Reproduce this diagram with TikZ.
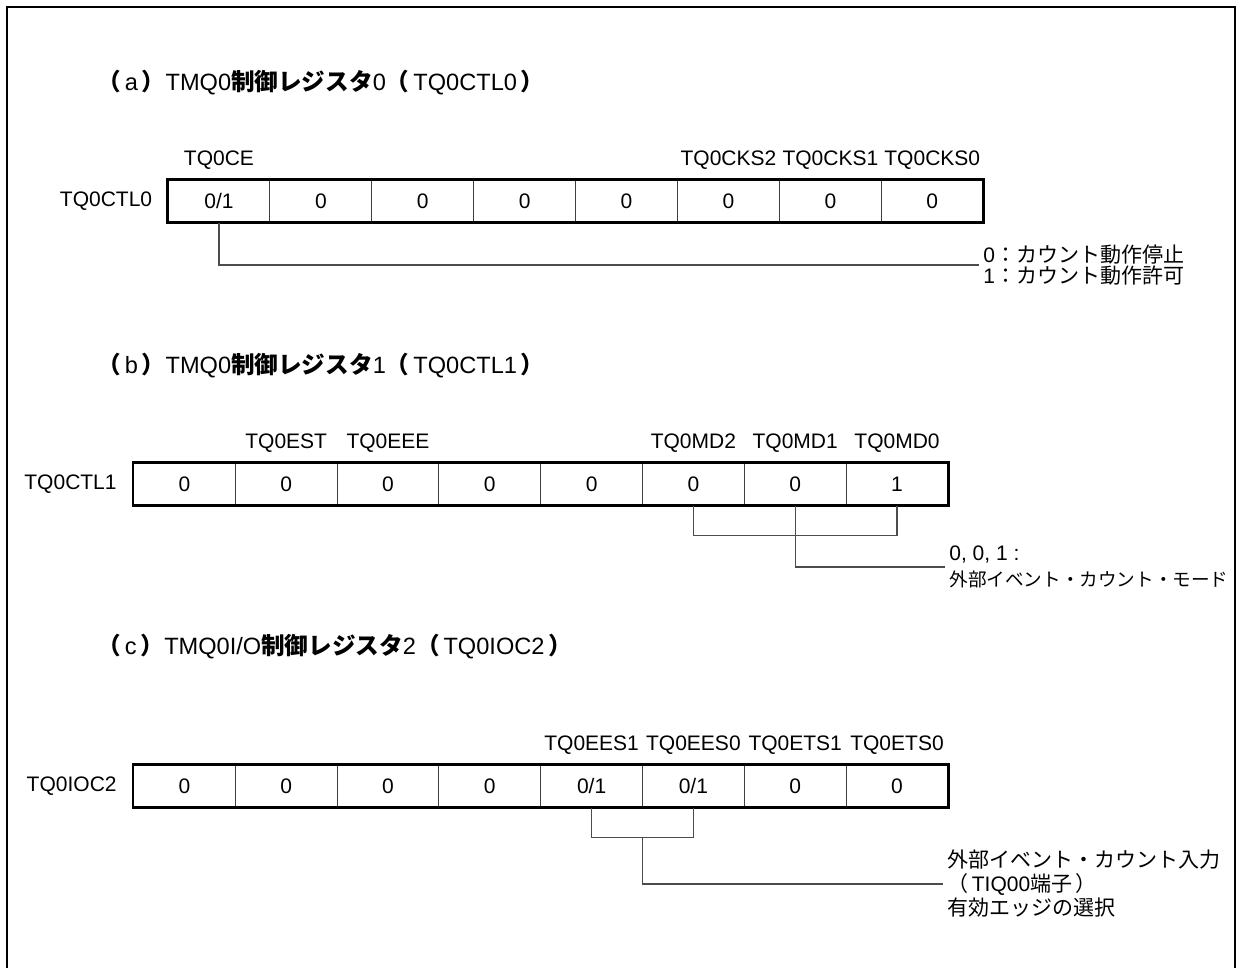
\documentclass[tikz,border=0pt]{standalone}
\usepackage{fontspec}
\setmainfont{Liberation Sans}
\newfontfamily\jp{Noto Sans CJK JP}
\usetikzlibrary{calc,positioning}
\newcommand{\jb}[1]{{\jp\bfseries #1}}

\begin{document}
\begin{tikzpicture}[x=0.5pt,y=-0.5pt,
    cell/.style={draw=black!75, line width=0.5pt, minimum width=50.9pt, minimum height=21.3pt, inner sep=0pt, font=\fontsize{10.5}{12}\selectfont},
    bitname/.style={inner sep=0pt, font=\fontsize{10.5}{12}\selectfont},
    regname/.style={inner sep=0pt, font=\fontsize{10.5}{12}\selectfont},
    title/.style={anchor=west, inner sep=0pt, font=\fontsize{11.8}{14}\selectfont},
    desc/.style={anchor=west, align=left, inner sep=2pt, font=\fontsize{10.5}{10.5}\selectfont},
    link/.style={draw=black!70, line width=0.6pt},
    outline/.style={line width=1.4pt},
    frame/.style={line width=1pt}]
        \useasboundingbox (0,0) rectangle (1242,968);
        % Outer frame
        \draw[frame] (7,990) -- (7,7) -- (1235,7) -- (1235,990);
        % (a) TQ0CTL0
        \node[title] (ttlA) at (97,83) {\jb{（}\,a\,\jb{）}TMQ0\jb{制御レジスタ}0\jb{（}\,TQ0CTL0\,\jb{）}};
        \foreach \v [count=\i] in {{0/1},0,0,0,0,0,0,0}
          \node[cell] (a\i) at ({168+101.9*(\i-0.5)},201) {\v};
        \draw[outline] (a1.north west) rectangle (a8.south east);
        \node[regname, left=7.5pt of a1] (regA) {TQ0CTL0};
        \node[bitname, above=4.5pt of a1] (ce) {TQ0CE};
        \node[bitname, above=4.5pt of a6] (cks2) {TQ0CKS2};
        \node[bitname, above=4.5pt of a7] (cks1) {TQ0CKS1};
        \node[bitname, above=4.5pt of a8] (cks0) {TQ0CKS0};
        \node[desc] (ceSel) at (979,265) {0{\jp ：カウント動作停止}\\1{\jp ：カウント動作許可}};
        \draw[link] (a1.south) |- (ceSel.west);
        % (b) TQ0CTL1
        \node[title] (ttlB) at (97,366) {\jb{（}\,b\,\jb{）}TMQ0\jb{制御レジスタ}1\jb{（}\,TQ0CTL1\,\jb{）}};
        \foreach \v [count=\i] in {0,0,0,0,0,0,0,1}
          \node[cell] (b\i) at ({133.5+101.8*(\i-0.5)},484) {\v};
        \draw[outline] (b1.north west) rectangle (b8.south east);
        \node[regname, left=8pt of b1] (regB) {TQ0CTL1};
        \node[bitname, above=4.5pt of b2] (est) {TQ0EST};
        \node[bitname, above=4.5pt of b3] (eee) {TQ0EEE};
        \node[bitname, above=4.5pt of b6] (md2) {TQ0MD2};
        \node[bitname, above=4.5pt of b7] (md1) {TQ0MD1};
        \node[bitname, above=4.5pt of b8] (md0) {TQ0MD0};
        \node[desc, font=\fontsize{10.5}{13}\selectfont] (mdSel) at (945,567) {0, 0, 1 :\\{\jp\fontsize{9.3}{13}\selectfont 外部イベント・カウント・モード}};
        \draw[link] (b6.south) -- ++(0,30) -| (b8.south);
        \draw[link] (b7.south) |- (mdSel.west);
        % (c) TQ0IOC2
        \node[title] (ttlC) at (97,647) {\jb{（}\,c\,\jb{）}TMQ0I/O\jb{制御レジスタ}2\jb{（}\,TQ0IOC2\,\jb{）}};
        \foreach \v [count=\i] in {0,0,0,0,{0/1},{0/1},0,0}
          \node[cell] (c\i) at ({133.5+101.8*(\i-0.5)},786) {\v};
        \draw[outline] (c1.north west) rectangle (c8.south east);
        \node[regname, left=8pt of c1] (regC) {TQ0IOC2};
        \node[bitname, above=4.5pt of c5] (ees1) {TQ0EES1};
        \node[bitname, above=4.5pt of c6] (ees0) {TQ0EES0};
        \node[bitname, above=4.5pt of c7] (ets1) {TQ0ETS1};
        \node[bitname, above=4.5pt of c8] (ets0) {TQ0ETS0};
        \coordinate (eesMid) at ($(c5.south)!0.5!(c6.south)+(0,30)$);
        \node[desc, font=\fontsize{10.5}{12}\selectfont] (eesSel) at (943,884) {{\jp 外部イベント・カウント入力}\\{\jp （}\,TIQ00{\jp 端子}\,{\jp ）}\\{\jp 有効エッジの選択}};
        \draw[link] (c5.south) -- ++(0,30) -| (c6.south);
        \draw[link] (eesMid) |- (eesSel.west);
\end{tikzpicture}
\end{document}
